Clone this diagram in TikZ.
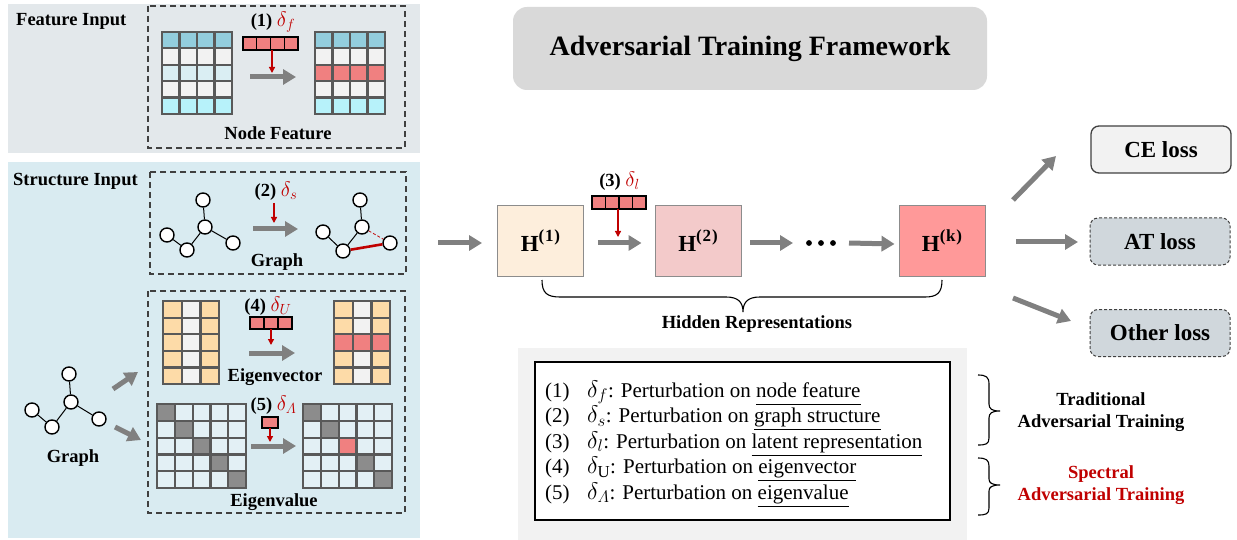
\RequirePackage{fix-cm}
\documentclass[tikz,border=0pt]{standalone}
\usepackage{amsmath}
\usepackage{fontspec}
\setmainfont{Liberation Serif}
\usetikzlibrary{arrows.meta}

\definecolor{featbg}{HTML}{E3E8EB}
\definecolor{structbg}{HTML}{D9EBF1}
\definecolor{gridc}{HTML}{595959}
\definecolor{fblue}{HTML}{93CDDD}
\definecolor{fpale}{HTML}{DAEEF3}
\definecolor{fcyan}{HTML}{B7F2FA}
\definecolor{fwhite}{HTML}{F2F2F2}
\definecolor{pert}{HTML}{F08080}
\definecolor{dred}{HTML}{C00000}
\definecolor{eorange}{HTML}{FDDBA8}
\definecolor{ediag}{HTML}{8C8C8C}
\definecolor{ecell}{HTML}{E3F0F5}
\definecolor{arrowgray}{HTML}{808080}
\definecolor{titlebg}{HTML}{D9D9D9}
\definecolor{hone}{HTML}{FDEEDC}
\definecolor{htwo}{HTML}{F3CACA}
\definecolor{hk}{HTML}{FF9999}
\definecolor{lossbg}{HTML}{D0D7DC}
\definecolor{cebg}{HTML}{F2F2F2}
\definecolor{legbg}{HTML}{F2F2F2}
\definecolor{dashc}{HTML}{404040}

% red perturbation symbol used in the panel labels
\newcommand\pdelta[1]{\textcolor{dred}{\fontsize{21}{21}\selectfont$\delta_{#1}$}}
% hidden representation label H^(i)
\newcommand\hlabel[1]{{\bfseries H\raisebox{10.5pt}{\fontsize{17}{17}\selectfont(\kern0.8pt#1\kern0.8pt)}}}
% underline kept at the same depth on every legend line
\newcommand\legul[1]{\underline{\smash{#1}\vphantom{p}}}

\begin{document}
\begin{tikzpicture}[x=1pt,y=-1pt,
  lbl/.style={font=\bfseries\fontsize{18.5}{21}\selectfont, inner sep=0pt},
  numlbl/.style={font=\bfseries\fontsize{18.5}{21}\selectfont, inner sep=0pt},
  cellbox/.style={draw=gridc, line width=2.2pt},
  pertcell/.style={draw=black, fill=pert, line width=1.3pt},
  dbox/.style={draw=dashc, line width=1.5pt, dash pattern=on 6pt off 4pt},
  garrow/.style={draw=arrowgray, line width=5pt, -{Triangle[length=13pt,width=15pt]}},
  rarrow/.style={draw=dred, line width=1.3pt, -{Triangle[length=6pt,width=6pt]}},
  gnode/.style={circle, draw=black, fill=white, line width=1.4pt, minimum size=14pt, inner sep=0pt},
  gedge/.style={draw=black, line width=1pt},
  hbox/.style={draw=ediag, line width=0.9pt, minimum width=86pt, minimum height=71pt, inner sep=0pt,
    font=\fontsize{23}{24}\selectfont},
  lossbox/.style={rounded corners=8pt, minimum width=140pt, minimum height=47pt, inner sep=0pt,
    font=\bfseries\fontsize{23}{25}\selectfont},
  legtxt/.style={font=\fontsize{21}{24}\selectfont, inner sep=0pt},
  sidetxt/.style={font=\bfseries\fontsize{18.5}{22}\selectfont, align=center, inner sep=0pt}
]
\useasboundingbox (0,0) rectangle (1237,540);

% ---------------- input panels ----------------
\fill[featbg] (8,4) rectangle (420,153);
\fill[structbg] (8,162) rectangle (420,538);
\draw[dbox] (148,6) rectangle (405,148);
\draw[dbox] (150,172) rectangle (406,274);
\draw[dbox] (148,291) rectangle (405,513);

\node[lbl, anchor=west] (featin) at (16,21) {Feature Input};
\node[lbl, anchor=west] (structin) at (13,181) {Structure Input};

% node feature matrices
\foreach \fc [count=\r from 0] in {fblue,fwhite,fpale,fwhite,fcyan}
  \foreach \c in {0,...,3}
    \draw[cellbox, fill=\fc] (162+17.5*\c,32+16.4*\r) rectangle ++(17.5,16.4);
\foreach \fc [count=\r from 0] in {fblue,fwhite,pert,fwhite,fcyan}
  \foreach \c in {0,...,3}
    \draw[cellbox, fill=\fc] (315+17.5*\c,32+16.4*\r) rectangle ++(17.5,16.4);
\foreach \c in {0,...,3}
  \draw[pertcell] (243+13.75*\c,37) rectangle ++(13.75,13);
\node[numlbl] (d1) at (273,22) {(1) \pdelta{f}};
\coordinate (bar1) at (272,50);
\coordinate (fa0) at (250,77);
\coordinate (fa1) at (296,77);
\draw[rarrow] (bar1) -- ++(0,23);
\draw[garrow] (fa0) -- (fa1);
\node[lbl] (nf) at (278,133) {Node Feature};

% graph structure perturbation
\node[gnode] (a1) at (203,200) {};
\node[gnode] (a2) at (205,227) {};
\node[gnode] (a3) at (167,235) {};
\node[gnode] (a4) at (187,250) {};
\node[gnode] (a5) at (233,243) {};
\draw[gedge] (a1) -- (a2) (a2) -- (a4) (a4) -- (a3) (a2) -- (a5);
\node[numlbl] (d2) at (276,191) {(2) \pdelta{s}};
\coordinate (bar2) at (274,203);
\coordinate (sa0) at (253,229);
\coordinate (sa1) at (298,229);
\draw[rarrow] (bar2) -- ++(0,20);
\draw[garrow] (sa0) -- (sa1);
\node[gnode] (b1) at (360,200) {};
\node[gnode] (b2) at (362,227) {};
\node[gnode] (b3) at (323,232) {};
\node[gnode] (b4) at (343,251) {};
\node[gnode] (b5) at (390,243) {};
\draw[gedge] (b1) -- (b2) (b2) -- (b4) (b4) -- (b3);
\draw[dred, line width=0.8pt, dash pattern=on 3pt off 2pt] (b2) -- (b5);
\draw[dred, line width=2.6pt] (b4) -- (b5);
\node[lbl] (gs) at (277,262) {Graph};

% spectral input graph
\node[gnode] (c1) at (69,374) {};
\node[gnode] (c2) at (71,402) {};
\node[gnode] (c3) at (32,410) {};
\node[gnode] (c4) at (52,427) {};
\node[gnode] (c5) at (99,419) {};
\draw[gedge] (c1) -- (c2) (c2) -- (c4) (c4) -- (c3) (c2) -- (c5);
\node[lbl] (gsp) at (73,458) {Graph};
\coordinate (u0) at (113,389);
\coordinate (u1) at (138,372);
\coordinate (v0) at (115,427);
\coordinate (v1) at (141,440);
\draw[garrow] (u0) -- (u1);
\draw[garrow] (v0) -- (v1);

% eigenvector matrices
\foreach \fc [count=\c from 0] in {eorange,fwhite,eorange}
  \foreach \r in {0,...,4}
    \draw[cellbox, fill=\fc] (163+18.7*\c,301+16.6*\r) rectangle ++(18.7,16.6);
\foreach \fc [count=\c from 0] in {eorange,fwhite,eorange}
  \foreach \r in {0,...,4}
    \draw[cellbox, fill=\fc] (334+18.7*\c,301+16.6*\r) rectangle ++(18.7,16.6);
\foreach \c in {0,...,2}
  \draw[cellbox, fill=pert] (334+18.7*\c,301+16.6*2) rectangle ++(18.7,16.6);
\foreach \c in {0,...,2}
  \draw[pertcell] (250+14*\c,317) rectangle ++(14,12);
\node[numlbl] (d4) at (268,306) {(4) \pdelta{U}};
\coordinate (bar4) at (271,329);
\coordinate (ea0) at (249,353);
\coordinate (ea1) at (295,353);
\draw[rarrow] (bar4) -- ++(0,16);
\draw[garrow] (ea0) -- (ea1);
\node[lbl] (ev) at (275,377) {Eigenvector};

% eigenvalue matrices
\foreach \r in {0,...,4}
  \foreach \c in {0,...,4} {
    \ifnum\r=\c \def\fc{ediag}\else\def\fc{ecell}\fi
    \draw[cellbox, fill=\fc] (157+17.8*\c,404+16.8*\r) rectangle ++(17.8,16.8);
    \draw[cellbox, fill=\fc] (303+17.8*\c,404+16.8*\r) rectangle ++(17.8,16.8);
  }
\draw[cellbox, fill=pert] (303+17.8*2,404+16.8*2) rectangle ++(17.8,16.8);
\draw[pertcell] (262,417) rectangle (278,428);
\node[numlbl] (d5) at (273.5,405) {(5) \pdelta{\varLambda}};
\coordinate (bar5) at (270,428);
\coordinate (la0) at (251,446);
\coordinate (la1) at (296,446);
\draw[rarrow] (bar5) -- ++(0,14);
\draw[garrow] (la0) -- (la1);
\node[lbl] (eval) at (274,502) {Eigenvalue};

% ---------------- framework ----------------
\node[fill=titlebg, rounded corners=14pt, minimum width=474pt, minimum height=83pt,
  font=\bfseries\fontsize{28}{30}\selectfont] (title) at (750,48.5) {Adversarial Training Framework};

\node[hbox, fill=hone] (h1) at (540.5,240.5) {\hlabel{1}};
\node[hbox, fill=htwo] (h2) at (698,240.5) {\hlabel{2}};
\node[hbox, fill=hk] (hk) at (942,240.5) {\hlabel{k}};
\coordinate (dots) at (821,243);
\foreach \dx in {-12,0,12} \fill ([xshift=\dx pt]dots) circle (2.9);

\coordinate (inl) at (438,243);
\draw[garrow] (inl) -- ([xshift=-15pt,yshift=-2.5pt]h1.west);
\draw[garrow] ([xshift=14pt,yshift=-2.5pt]h1.east) -- ([xshift=-13pt,yshift=-2.5pt]h2.west);
\draw[garrow] ([xshift=9pt,yshift=-2.5pt]h2.east) -- ([xshift=-28pt]dots);
\draw[garrow] ([xshift=28pt]dots) -- ([xshift=-4pt,yshift=-3.5pt]hk.west);

\foreach \c in {0,...,3}
  \draw[pertcell] (592+13.5*\c,196) rectangle ++(13.5,13);
\node[numlbl] (d3) at (619.5,181) {(3) \pdelta{l}};
\coordinate (bar3) at (618,209);
\draw[rarrow] (bar3) -- ++(0,28);

% brace under hidden representations
\draw[line width=1.1pt] (542,280) .. controls (542,293) and (547,297) .. (560,297) -- (726,297)
  .. controls (738,297) and (743,302) .. (743,312)
  .. controls (743,302) and (748,297) .. (760,297) -- (925,297)
  .. controls (937,297) and (942,293) .. (942,280);
\node[lbl] (hidden) at (757,324) {Hidden Representations};

% losses
\node[lossbox, fill=cebg, draw=dashc, line width=1.3pt] (ce) at (1161,149.5) {CE loss};
\node[lossbox, fill=lossbg, draw=dashc, line width=1pt, dash pattern=on 3pt off 2pt] (at) at (1160,241.5) {AT loss};
\node[lossbox, fill=lossbg, draw=dashc, line width=1pt, dash pattern=on 3pt off 2pt] (other) at (1160,333) {Other loss};
\coordinate (o1s) at (1013,200);
\coordinate (o1e) at (1056,156);
\coordinate (o2s) at (1016,242);
\coordinate (o2e) at (1078,242);
\coordinate (o3s) at (1013,298);
\coordinate (o3e) at (1071,321);
\draw[garrow] (o1s) -- (o1e);
\draw[garrow] (o2s) -- (o2e);
\draw[garrow] (o3s) -- (o3e);

% ---------------- legend ----------------
\fill[legbg] (518,348) rectangle (967,540);
\node[draw=black, line width=2pt, fill=white, minimum width=415pt, minimum height=158pt] (legend) at (742.5,441) {};
\foreach \n/\d/\t [count=\i from 0] in {
  1/{\delta_f}/{node feature},
  2/{\delta_s}/{graph structure},
  3/{\delta_l}/{latent representation},
  4/{\delta_{\mathrm{U}}}/{eigenvector},
  5/{\delta_{\varLambda}}/{eigenvalue}} {
  \node[legtxt, anchor=base west] (ln\n) at (545,397+25.5*\i) {(\n)};
  \node[legtxt, anchor=base west] (lt\n) at (587,397+25.5*\i)
    {{\fontsize{24}{24}\selectfont$\d$}: Perturbation on \legul{\t}};
}

% side braces
\draw[line width=1.1pt] (978,375) .. controls (986,375) and (989,377) .. (989,384) -- (989,404)
  .. controls (989,409) and (992,411) .. (1000,411)
  .. controls (992,411) and (989,413) .. (989,418) -- (989,438)
  .. controls (989,444) and (986,445) .. (978,445);
\draw[line width=1.1pt] (978,458) .. controls (986,458) and (989,460) .. (989,466) -- (989,479)
  .. controls (989,483) and (992,485) .. (1000,485)
  .. controls (992,485) and (989,487) .. (989,491) -- (989,508)
  .. controls (989,514) and (986,515) .. (978,515);
\node[sidetxt] (trad) at (1101,412) {Traditional\\Adversarial Training};
\node[sidetxt, text=dred] (spec) at (1101,485) {Spectral\\Adversarial Training};
\end{tikzpicture}
\end{document}
